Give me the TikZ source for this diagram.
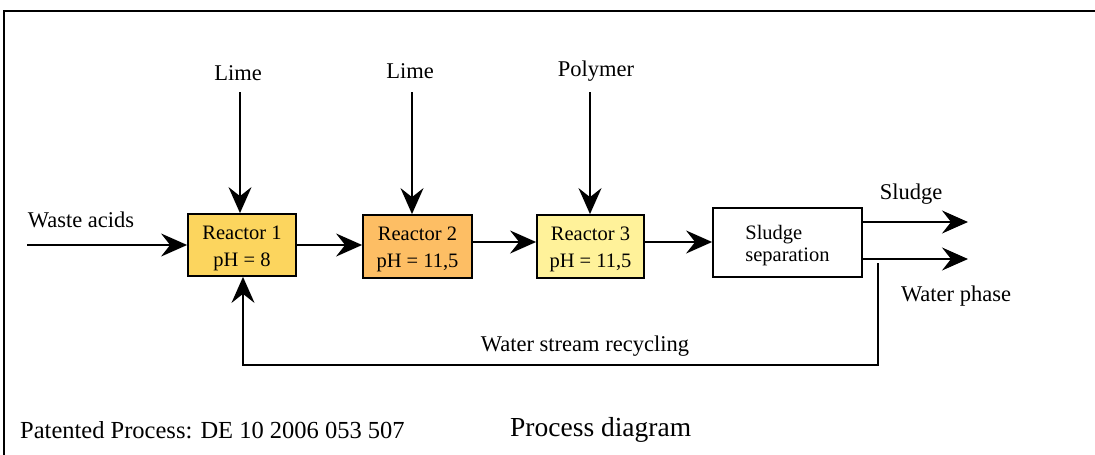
\documentclass[tikz,border=0pt]{standalone}
\usepackage{fontspec}
\setmainfont{Liberation Serif}
\usetikzlibrary{arrows.meta}
\definecolor{rone}{HTML}{FCD55E}
\definecolor{rtwo}{HTML}{FDBE64}
\definecolor{rthree}{HTML}{FFF29A}
\newcommand{\upstrut}{\rule{0pt}{20pt}}
\tikzset{
  x=1pt,y=-1pt,
  box/.style={draw=black,line width=1.8pt,minimum width=#1,inner sep=0pt,align=center,font=\fontsize{20.5}{27}\selectfont},
  flow/.style={line width=1.8pt,-{Stealth[length=26pt,width=23pt,inset=9pt]}},
  lbl/.style={font=\fontsize{22.5}{26}\selectfont,inner sep=0pt},
}
\begin{document}
\begin{tikzpicture}
\useasboundingbox (0,0) rectangle (1095,455);
\draw[line width=2.5pt] (4,455) -- (4,11) -- (1095,11);

\node[box=108pt,minimum height=62pt,fill=rone] (r1) at (242,245) {\upstrut Reactor 1\\pH = 8};
\node[box=109pt,minimum height=63pt,fill=rtwo] (r2) at (417.5,246.5) {\upstrut Reactor 2\\pH = 11,5};
\node[box=107pt,minimum height=63pt,fill=rthree] (r3) at (590.5,246.5) {\upstrut Reactor 3\\pH = 11,5};
\node[box=149pt,minimum height=69pt,fill=white,align=left,font=\fontsize{20.5}{21.5}\selectfont] (ss) at (787.5,242.5) {\upstrut Sludge\\separation};

\node[lbl] (lime1) at (238,73) {Lime};
\node[lbl] (lime2) at (410,71) {Lime};
\node[lbl] (poly) at (596,71) {Polymer};
\node[lbl] (waste) at (81,220) {Waste acids};
\node[lbl] (sludge) at (911,194) {Sludge};
\node[lbl] (water) at (956,296) {Water phase};
\node[lbl] (recyc) at (585,346) {Water stream recycling};
\node[lbl,font=\fontsize{24.5}{28}\selectfont,anchor=west] (pat) at (20,430) {Patented Process: DE 10 2006 053 507};
\node[lbl,font=\fontsize{27.5}{32}\selectfont,anchor=west] (pd) at (510,430) {Process diagram};

\coordinate (l1s) at (240,92);
\coordinate (l2s) at (412,92);
\coordinate (ps) at (590,92);
\coordinate (ws) at (27,245);
\coordinate (se) at (968,222);
\coordinate (we) at (968,259);
\coordinate (rc1) at (878,263);
\coordinate (rc2) at (878,365);
\coordinate (rc3) at (243,365);

\draw[flow] (l1s) -- (l1s |- r1.north);
\draw[flow] (l2s) -- (l2s |- r2.north);
\draw[flow] (ps) -- (ps |- r3.north);
\draw[flow] (ws) -- (ws -| r1.west);
\draw[flow] (r1.east |- 0,245) -- (r2.west |- 0,245);
\draw[flow] (r2.east |- 0,242) -- (r3.west |- 0,242);
\draw[flow] (r3.east |- 0,242) -- (ss.west |- 0,242);
\draw[flow] (ss.east |- se) -- (se);
\draw[flow] (ss.east |- we) -- (we);
\draw[flow] (rc1) -- (rc2) -- (rc3) -- (rc3 |- r1.south);
\end{tikzpicture}
\end{document}
